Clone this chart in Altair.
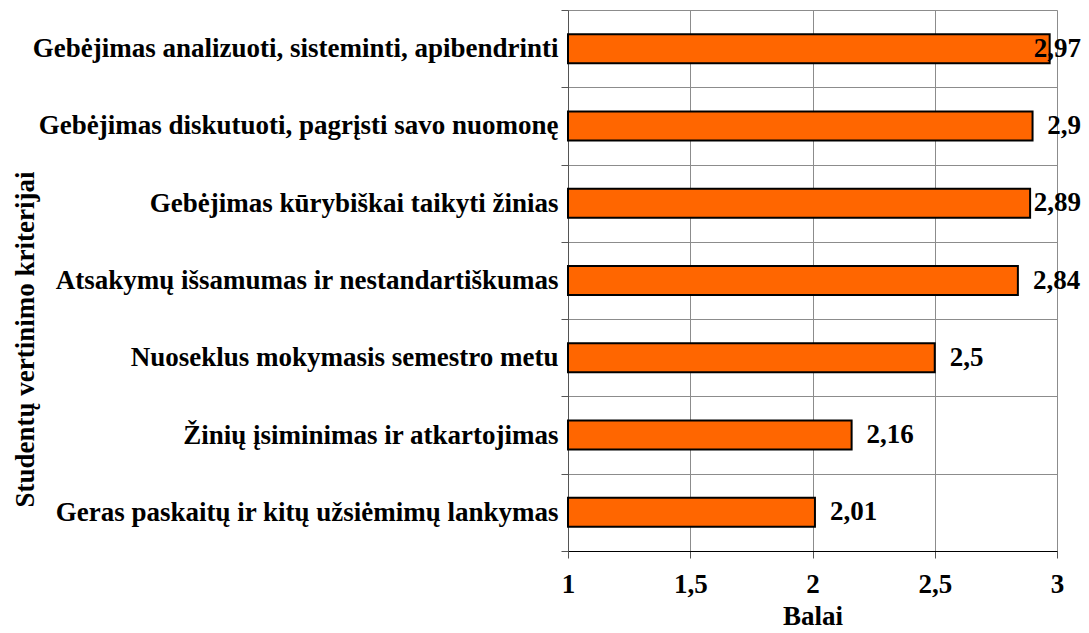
import altair as alt
import pandas as pd

categories = [
    "Gebėjimas analizuoti, sisteminti, apibendrinti",
    "Gebėjimas diskutuoti, pagrįsti savo nuomonę",
    "Gebėjimas kūrybiškai taikyti žinias",
    "Atsakymų išsamumas ir nestandartiškumas",
    "Nuoseklus mokymasis semestro metu ",
    "Žinių įsiminimas ir atkartojimas",
    "Geras paskaitų ir kitų užsiėmimų lankymas",
]
values = [2.97, 2.9, 2.89, 2.84, 2.5, 2.16, 2.01]
x_ticks = [1, 1.5, 2, 2.5, 3]

df = pd.DataFrame({"kriterijus": categories, "balai": values})

FONT = "Liberation Serif"
FS = 27

y_axis = alt.Axis(
    title="Studentų vertinimo kriterijai",
    titleFont=FONT,
    titleFontSize=FS,
    titleFontWeight="bold",
    titleColor="black",
    titleX=-535,
    titleY=329,
    titleAngle=270,
    titleAlign="center",
    titleBaseline="alphabetic",
    labelFont=FONT,
    labelFontSize=FS,
    labelFontWeight="bold",
    labelColor="black",
    labelLimit=800,
    labelPadding=3,
    tickBand="extent",
    tickSize=7,
    tickColor="#555555",
    domainColor="#555555",
    grid=True,
    gridColor="#8c8c8c",
    gridWidth=1,
)

x_axis = alt.Axis(
    title="Balai",
    values=x_ticks,
    labelExpr="replace(format(datum.value, ''), '.', ',')",
    titleFont=FONT,
    titleFontSize=FS,
    titleFontWeight="bold",
    titleColor="black",
    titleY=73,
    titleBaseline="alphabetic",
    labelFont=FONT,
    labelFontSize=FS,
    labelFontWeight="bold",
    labelColor="black",
    labelBaseline="alphabetic",
    labelPadding=34,
    labelFlush=False,
    tickSize=7,
    tickColor="#555555",
    domainColor="black",
    grid=True,
    gridColor="#8c8c8c",
    gridWidth=1,
)

x_scale = alt.Scale(domain=[1, 3], nice=False, zero=False)
y_scale = alt.Scale(paddingInner=0, paddingOuter=0)

bars = alt.Chart(df).mark_bar(
    color="#FF6600", stroke="black", strokeWidth=2, size=29
).encode(
    x=alt.X("balai:Q", scale=x_scale, axis=x_axis, title="Balai"),
    x2=alt.datum(1),
    y=alt.Y("kriterijus:N", sort=categories, scale=y_scale, axis=y_axis,
            title="Studentų vertinimo kriterijai"),
)

labels = alt.Chart(df).transform_calculate(
    lbl="replace(toString(datum.balai), '.', ',')"
).transform_calculate(
    w="((length(datum.lbl) - 1) * 0.5 + 0.25) * 27 / 244.5"
).transform_calculate(
    lx="min(datum.balai, 3.098 - datum.w - 15 / 244.5)"
).mark_text(
    align="left", baseline="middle", dx=15, font=FONT, fontSize=FS,
    fontWeight="bold", color="black"
).encode(
    x=alt.X("lx:Q", scale=x_scale, axis=x_axis, title="Balai"),
    y=alt.Y("kriterijus:N", sort=categories, scale=y_scale, axis=y_axis,
            title="Studentų vertinimo kriterijai"),
    text="lbl:N",
)

chart = alt.layer(bars, labels).properties(
    width=489,
    height=541,
    autosize=alt.AutoSizeParams(type="none"),
    padding={"left": 560, "top": 2, "right": 24, "bottom": 78},
).configure_view(stroke="transparent").configure(background="white")

chart.save("out.html", embed_options={"renderer": "svg", "actions": False})
